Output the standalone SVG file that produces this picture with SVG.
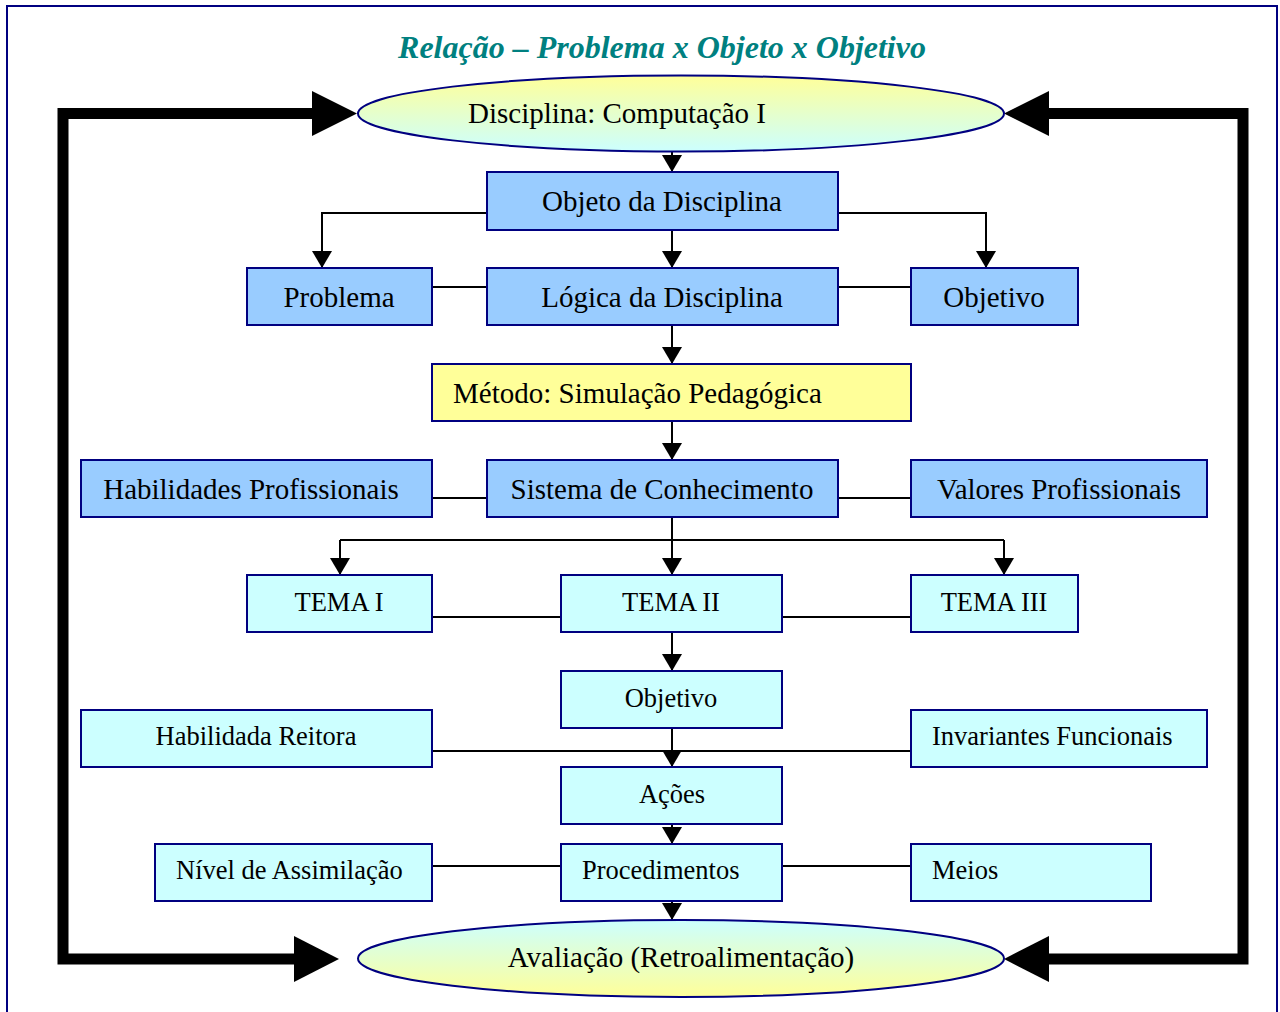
<svg xmlns="http://www.w3.org/2000/svg" width="1280" height="1012" viewBox="0 0 1280 1012">
<style>
text{font-family:"Liberation Serif","Times New Roman",serif;fill:#000}
.t1{font-size:29px}
.t2{font-size:26.5px}
.mid{text-anchor:middle}
.blue{fill:#99ccff;stroke:#000080;stroke-width:2}
.yel{fill:#ffff99;stroke:#000080;stroke-width:2}
.cyan{fill:#ccffff;stroke:#000080;stroke-width:2}
.ell{stroke:#000080;stroke-width:2}
.ln{fill:none;stroke:#000;stroke-width:2}
.arr{marker-end:url(#ah)}
.big{fill:none;stroke:#000;stroke-width:11;stroke-linejoin:miter}
</style>
<defs>
<linearGradient id="gTop" x1="0" y1="0" x2="0" y2="1">
<stop offset="0" stop-color="#ffff99"/>
<stop offset="1" stop-color="#ccffff"/>
</linearGradient>
<linearGradient id="gBot" x1="0" y1="0" x2="0" y2="1">
<stop offset="0" stop-color="#ccffff"/>
<stop offset="1" stop-color="#ffff99"/>
</linearGradient>
<marker id="ah" viewBox="0 0 17 20" refX="17" refY="10" markerWidth="17" markerHeight="20" markerUnits="userSpaceOnUse" orient="auto">
<path d="M0,0 L17,10 L0,20 Z" fill="#000"/>
</marker>
</defs>
<rect x="7" y="6" width="1270" height="1030" fill="#fff" stroke="#000080" stroke-width="2"/>
<text x="662" y="58" class="mid" style="font-size:32px;font-weight:bold;font-style:italic;fill:#008080">Relação – Problema x Objeto x Objetivo</text>

<g id="connectors">
<path class="big" d="M312,113.5 H63 V959 H294"/>
<polygon points="312,91 357,113.5 312,136" fill="#000"/>
<polygon points="294,936 339,959 294,982" fill="#000"/>
<path class="big" d="M1049,113.5 H1243 V959 H1049"/>
<polygon points="1049,91 1004,113.5 1049,136" fill="#000"/>
<polygon points="1049,936 1004,959 1049,982" fill="#000"/>

<path class="ln arr" d="M672,152 V172"/>
<path class="ln arr" d="M487,213 H322 V268"/>
<path class="ln arr" d="M838,213 H986 V268"/>
<path class="ln arr" d="M672,230 V268"/>
<path class="ln" d="M432,287 H487 M838,287 H911"/>
<path class="ln arr" d="M672,325 V364"/>
<path class="ln arr" d="M672,421 V460"/>
<path class="ln" d="M432,498 H487 M838,498 H911"/>
<path class="ln arr" d="M672,517 V575"/>
<path class="ln" d="M340,540 H1004"/>
<path class="ln arr" d="M340,540 V575"/>
<path class="ln arr" d="M1004,540 V575"/>
<path class="ln" d="M432,617 H561 M782,617 H911"/>
<path class="ln arr" d="M672,632 V671"/>
<path class="ln" d="M432,751 H911"/>
<path class="ln arr" d="M672,728 V767"/>
<path class="ln arr" d="M672,824 V844"/>
<path class="ln" d="M432,866 H561 M782,866 H911"/>
<path class="ln arr" d="M672,901 V920"/>
</g>

<g id="n-disciplina">
<ellipse class="ell" cx="681" cy="113.5" rx="323" ry="38" fill="url(#gTop)"/>
<text x="617" y="123" class="t1 mid">Disciplina: Computação I</text>
</g>
<g id="n-objeto">
<rect class="blue" x="487" y="172" width="351" height="58"/>
<text x="662" y="211" class="t1 mid">Objeto da Disciplina</text>
</g>
<g id="n-problema">
<rect class="blue" x="247" y="268" width="185" height="57"/>
<text x="339" y="307" class="t1 mid">Problema</text>
</g>
<g id="n-logica">
<rect class="blue" x="487" y="268" width="351" height="57"/>
<text x="662" y="307" class="t1 mid">Lógica da Disciplina</text>
</g>
<g id="n-objetivo1">
<rect class="blue" x="911" y="268" width="167" height="57"/>
<text x="994" y="307" class="t1 mid">Objetivo</text>
</g>
<g id="n-metodo">
<rect class="yel" x="432" y="364" width="479" height="57"/>
<text x="453" y="403" class="t1">Método: Simulação Pedagógica</text>
</g>
<g id="n-habilidades">
<rect class="blue" x="81" y="460" width="351" height="57"/>
<text x="251" y="499" class="t1 mid">Habilidades Profissionais</text>
</g>
<g id="n-sistema">
<rect class="blue" x="487" y="460" width="351" height="57"/>
<text x="662" y="499" class="t1 mid">Sistema de Conhecimento</text>
</g>
<g id="n-valores">
<rect class="blue" x="911" y="460" width="296" height="57"/>
<text x="1059" y="499" class="t1 mid">Valores Profissionais</text>
</g>
<g id="n-tema1">
<rect class="cyan" x="247" y="575" width="185" height="57"/>
<text x="339" y="611" class="t2 mid">TEMA I</text>
</g>
<g id="n-tema2">
<rect class="cyan" x="561" y="575" width="221" height="57"/>
<text x="671" y="611" class="t2 mid">TEMA II</text>
</g>
<g id="n-tema3">
<rect class="cyan" x="911" y="575" width="167" height="57"/>
<text x="994" y="611" class="t2 mid">TEMA III</text>
</g>
<g id="n-objetivo2">
<rect class="cyan" x="561" y="671" width="221" height="57"/>
<text x="671" y="707" class="t2 mid">Objetivo</text>
</g>
<g id="n-reitora">
<rect class="cyan" x="81" y="710" width="351" height="57"/>
<text x="256" y="745" class="t2 mid">Habilidada Reitora</text>
</g>
<g id="n-invariantes">
<rect class="cyan" x="911" y="710" width="296" height="57"/>
<text x="932" y="745" class="t2">Invariantes Funcionais</text>
</g>
<g id="n-acoes">
<rect class="cyan" x="561" y="767" width="221" height="57"/>
<text x="672" y="803" class="t2 mid">Ações</text>
</g>
<g id="n-nivel">
<rect class="cyan" x="155" y="844" width="277" height="57"/>
<text x="176" y="879" class="t2">Nível de Assimilação</text>
</g>
<g id="n-procedimentos">
<rect class="cyan" x="561" y="844" width="221" height="57"/>
<text x="582" y="879" class="t2">Procedimentos</text>
</g>
<g id="n-meios">
<rect class="cyan" x="911" y="844" width="240" height="57"/>
<text x="932" y="879" class="t2">Meios</text>
</g>
<g id="n-avaliacao">
<ellipse class="ell" cx="681" cy="958.5" rx="323" ry="38.5" fill="url(#gBot)"/>
<text x="681" y="967" class="t1 mid">Avaliação (Retroalimentação)</text>
</g>
</svg>
